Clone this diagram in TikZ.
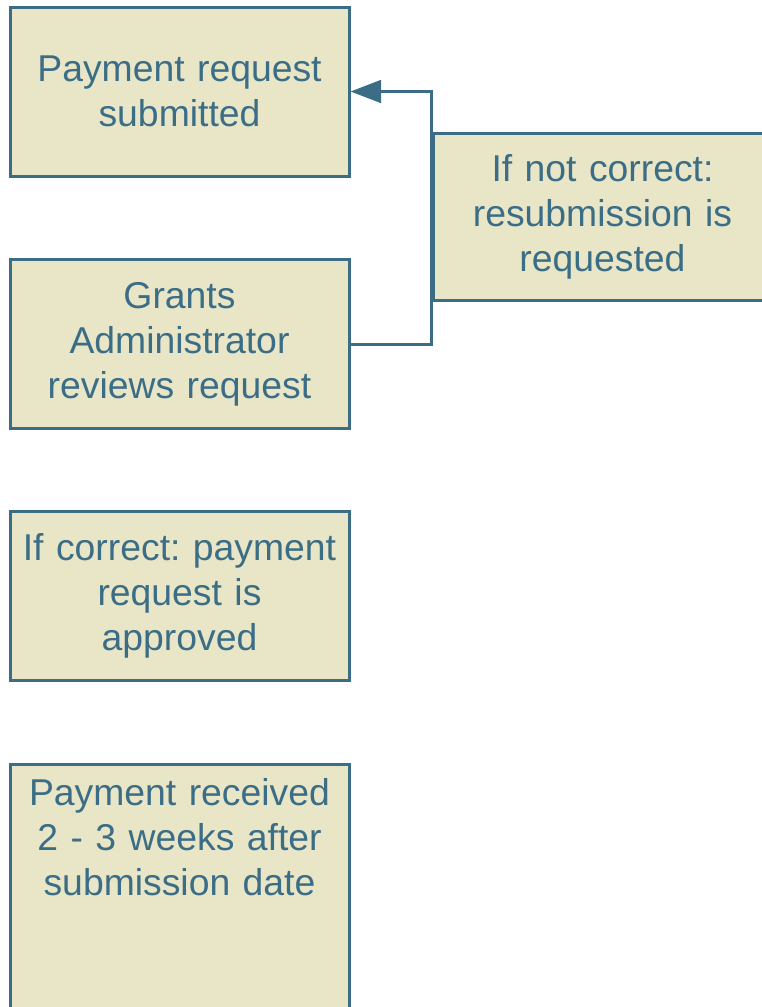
\documentclass[tikz,border=0pt]{standalone}
\usepackage{fontspec}
\setmainfont{Liberation Sans}
\usetikzlibrary{arrows.meta, positioning}
\definecolor{stepteal}{RGB}{59, 110, 134}
\definecolor{stepbeige}{RGB}{233, 230, 200}
\frenchspacing

\begin{document}
\begin{tikzpicture}[
        x=0.75pt, y=-0.75pt,
        stage/.style={rectangle, draw=stepteal, fill=stepbeige, line width=2.25pt, minimum width=254.25pt, minimum height=126.75pt, inner sep=0pt, text width=250pt, align=center, text=stepteal, font=\fontsize{28}{33.8}\selectfont},
        plain/.style={inner sep=0pt, text width=250pt, align=center, text=stepteal, font=\fontsize{28}{33.8}\selectfont},
        flow/.style={draw=stepteal, line width=2.25pt, -{Triangle[length=23pt, width=17pt]}}
    ]
        \useasboundingbox (0,0) rectangle (762,1007);
        \clip (0,0) rectangle (762,1007);

        \node[stage] (submit) at (179.5, 91.5) {Payment request\\submitted};
        \node[stage] (review) at (179.5, 344) {Grants\\Administrator\\reviews request};
        \node[stage] (approve) at (179.5, 596) {If correct: payment\\request is\\approved};
        \node[stage, minimum height=222pt] (recv) at (179.5, 912) {};
        \node[plain, anchor=north] (recvtext) at ([yshift=-12pt]recv.north) {Payment received\\2 - 3 weeks after\\submission date};
        \node[stage, minimum height=125.25pt] (resub) at (602.5, 216.5) {If not correct:\\resubmission is\\requested};

        \draw[flow] (review.east) -| (resub.west) |- (submit.east);
    \end{tikzpicture}
\end{document}
